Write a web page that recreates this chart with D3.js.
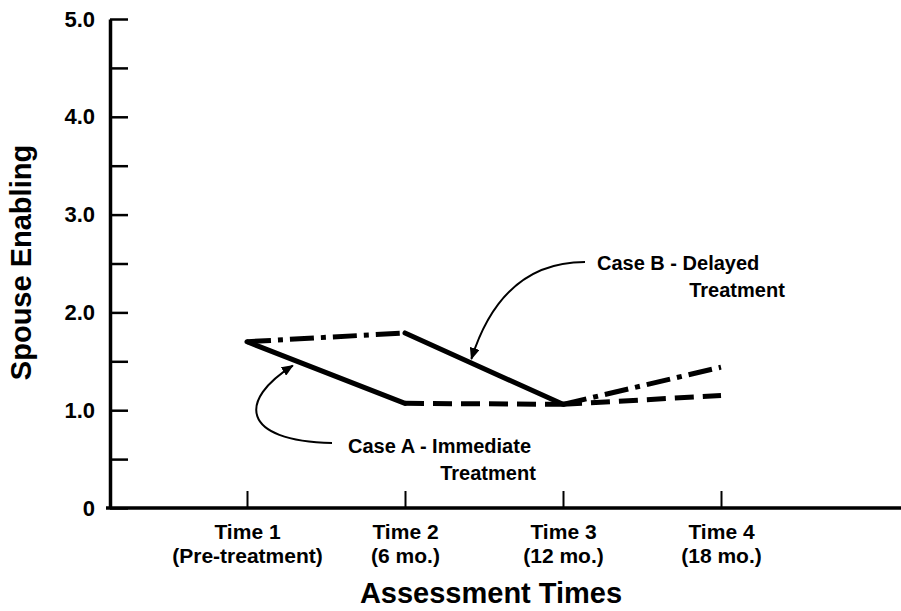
<!DOCTYPE html>
<html><head><meta charset="utf-8">
<script src="https://cdn.jsdelivr.net/npm/d3@7"></script>
<style>body{margin:0;background:#fff}svg{display:block}text{font-family:"Liberation Sans",Arial,Helvetica,sans-serif;font-weight:bold;fill:#000}</style>
</head><body><svg id="c" width="901" height="611"></svg>
<script>
// ---- data ----
const times = ["Time 1", "Time 2", "Time 3", "Time 4"];
const timeSubLabels = ["(Pre-treatment)", "(6 mo.)", "(12 mo.)", "(18 mo.)"];
const caseA = [1.70, 1.07, 1.06, 1.15];          // Case A - Immediate Treatment
const caseB = [1.70, 1.79, 1.06, 1.44];          // Case B - Delayed Treatment
const caseATreatmentSegments = [true, false, false];
const caseBTreatmentSegments = [false, true, false];
const yTicks = [0, 0.5, 1, 1.5, 2, 2.5, 3, 3.5, 4, 4.5, 5];
const yTickLabels = ["0", "", "1.0", "", "2.0", "", "3.0", "", "4.0", "", "5.0"];

// ---- layout ----
const svg = d3.select("#c");
const x = d3.scalePoint().domain(times).range([247, 721]);
const y = d3.scaleLinear().domain([0, 5]).range([508, 19]);
const axisX0 = 110;

// y axis
const yAxis = d3.axisLeft(y).tickValues(yTicks)
  .tickFormat((d, i) => yTickLabels[i]).tickSizeInner(-18).tickSizeOuter(0).tickPadding(15);
const gy = svg.append("g").attr("transform", `translate(${axisX0},0)`).call(yAxis);
gy.select(".domain").attr("stroke", "#000").attr("stroke-width", 3.5);
gy.selectAll(".tick line").attr("stroke", "#000").attr("stroke-width", 2.5);
gy.selectAll(".tick text").attr("font-size", 22).attr("fill", "#000")
  .attr("font-family", "Liberation Sans, Arial, sans-serif").attr("font-weight", "bold");

// x axis
svg.append("line").attr("x1", 106).attr("x2", 901).attr("y1", y(0)).attr("y2", y(0))
  .attr("stroke", "#000").attr("stroke-width", 3.5);
const xAxis = d3.axisBottom(x).tickSizeInner(-17).tickSizeOuter(0).tickFormat("");
const gx = svg.append("g").attr("transform", `translate(0,${y(0)})`).call(xAxis);
gx.select(".domain").remove();
gx.selectAll(".tick line").attr("stroke", "#000").attr("stroke-width", 2);
gx.selectAll(".tick").each(function (d, i) {
  const g = d3.select(this);
  g.append("text").attr("text-anchor", "middle").attr("font-size", 21).attr("x", 0).attr("y", 31)
    .attr("font-family", "Liberation Sans, Arial, sans-serif").attr("font-weight", "bold").text(times[i]);
  g.append("text").attr("text-anchor", "middle").attr("font-size", 21).attr("x", 0).attr("y", 55)
    .attr("font-family", "Liberation Sans, Arial, sans-serif").attr("font-weight", "bold").text(timeSubLabels[i]);
});

// axis titles
svg.append("text").attr("x", 491).attr("y", 603).attr("text-anchor", "middle")
  .attr("font-size", 29).text("Assessment Times");
svg.append("text").attr("transform", `translate(31,${y(2.5) - 1}) rotate(-90)`)
  .attr("text-anchor", "middle").attr("font-size", 29).text("Spouse Enabling");

// ---- lines ----
function segments(vals, treated, dash) {
  return treated.map((tr, i) => ({
    x1: x(times[i]), y1: y(vals[i]), x2: x(times[i + 1]), y2: y(vals[i + 1]),
    dash: tr ? null : dash, treated: tr
  }));
}
const segs = [
  ...segments(caseA, caseATreatmentSegments, "19,9"),
  ...segments(caseB, caseBTreatmentSegments, "24,7,5,7")
];
svg.append("g").selectAll("line").data(segs).join("line")
  .attr("x1", d => d.x1).attr("y1", d => d.y1).attr("x2", d => d.x2).attr("y2", d => d.y2)
  .attr("stroke", "#000").attr("stroke-width", 5)
  .attr("stroke-linecap", d => d.treated ? "round" : "butt")
  .attr("stroke-dasharray", d => d.dash);

// ---- annotations ----
const defs = svg.append("defs");
defs.append("marker").attr("id", "ah").attr("viewBox", "0 0 12 10").attr("refX", 11).attr("refY", 5)
  .attr("markerWidth", 12).attr("markerHeight", 10).attr("markerUnits", "userSpaceOnUse").attr("orient", "auto")
  .append("path").attr("d", "M0,0 L12,5 L0,10 Z").attr("fill", "#000");

function lerp(a, b, t) { return a + (b - a) * t; }
const tipA = [lerp(x(times[0]), x(times[1]), 0.29), lerp(y(caseA[0]), y(caseA[1]), 0.29) + 6];
const tipB = [lerp(x(times[1]), x(times[2]), 0.42), lerp(y(caseB[1]), y(caseB[2]), 0.42) - 4];

svg.append("path").attr("fill", "none").attr("stroke", "#000").attr("stroke-width", 2)
  .attr("marker-end", "url(#ah)")
  .attr("d", `M332,443 C240,441 238,400 ${tipA[0]},${tipA[1]}`);
svg.append("path").attr("fill", "none").attr("stroke", "#000").attr("stroke-width", 2)
  .attr("marker-end", "url(#ah)")
  .attr("d", `M585,262 C525,262 490,300 ${tipB[0]},${tipB[1]}`);

svg.append("text").attr("x", 348).attr("y", 453).attr("font-size", 20).text("Case A - Immediate");
svg.append("text").attr("x", 488).attr("y", 480).attr("text-anchor", "middle").attr("font-size", 20).text("Treatment");
svg.append("text").attr("x", 597).attr("y", 270).attr("font-size", 20).text("Case B - Delayed");
svg.append("text").attr("x", 737).attr("y", 297).attr("text-anchor", "middle").attr("font-size", 20).text("Treatment");
</script></body></html>
